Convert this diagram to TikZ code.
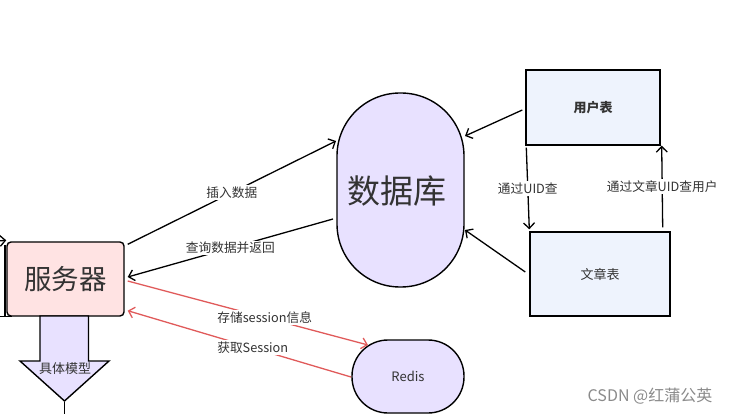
\documentclass[tikz,border=0pt]{standalone}
\usepackage{fontspec}
\setmainfont{Noto Sans CJK SC}
\usetikzlibrary{arrows.meta,calc}
\definecolor{srvfill}{HTML}{FFE3E3}
\definecolor{lav}{HTML}{E8E1FF}
\definecolor{tbl}{HTML}{EEF3FD}
\definecolor{redl}{HTML}{E05A5A}
\definecolor{txt}{HTML}{333333}
\definecolor{wm}{HTML}{8A8A8A}
\tikzset{
  conn/.style={line width=1.3pt, -{Straight Barb[length=5.5pt,width=11pt,line width=1.3pt]}},
  redconn/.style={conn, draw=redl},
  lbl/.style={fill=white, inner sep=1.5pt, font=\fontsize{12.7}{14}\selectfont, text=txt},
  box/.style={draw=black, line width=1.4pt, text=txt},
}
\begin{document}
\begin{tikzpicture}[x=1pt,y=-1pt]
\useasboundingbox (0,0) rectangle (731,414);
% nodes
\node[box, fill=srvfill, rounded corners=4pt, minimum width=117pt, minimum height=74pt, font=\fontsize{27.5}{30}\selectfont] (server) at (65.5,279) {服务器};
\node[box, fill=lav, rounded corners=63pt, minimum width=127pt, minimum height=194pt, font=\fontsize{33}{36}\selectfont, text depth=0pt] (db) at (400.5,190) {\hspace{-7pt}数据库};
\node[box, fill=tbl, minimum width=134pt, minimum height=75pt, font=\fontsize{13}{15}\selectfont\bfseries] (user) at (593,107.5) {用户表};
\node[box, fill=tbl, minimum width=140pt, minimum height=84pt, font=\fontsize{13}{15}\selectfont] (article) at (600,274) {文章表};
\node[box, fill=lav, rounded corners=36pt, minimum width=112pt, minimum height=73pt, font=\fontsize{13}{15}\selectfont] (redis) at (408,376.5) {Redis};
% big arrow
\draw[line width=1.4pt, fill=lav, line join=miter] (40,316) -- (88.5,316) -- (88.5,361) -- (109,361) -- (64.5,401) -- (20,361) -- (40,361) -- cycle;
\node[text=txt, font=\fontsize{13}{15}\selectfont, inner sep=0pt] (model) at (65,369) {具体模型};
\coordinate (tailtop) at (64.5,402);
\coordinate (tailbot) at (64.5,414);
\draw[line width=1.3pt] (tailtop) -- (tailbot);
% left partial connector
\coordinate (lin) at (-2,241);
\coordinate (lv1) at (5,245);
\coordinate (lv2) at (5,316.5);
\coordinate (lh) at (12,316.5);
\coordinate (lh0) at (0,316.5);
\draw[conn] (lin) -- ($(server.north west)+(0,-1)$);
\draw[line width=1.3pt] (lv1) -- (lv2);
\draw[line width=1.3pt] (lh0) -- (lh);
% connectors
\draw[conn] ($(server.north east)+(3,3)$) -- node[lbl, midway] {插入数据} ($(db.center)+(-64.5,-49)$);
\draw[conn] ($(db.center)+(-67.5,29)$) -- node[lbl, midway] {查询数据并返回} ($(server.east)+(3,-2)$);
\draw[redconn] ($(server.east)+(3,2)$) -- node[lbl, pos=0.57] {存储session信息} ($(redis.center)+(-40,-31.5)$);
\draw[redconn] ($(redis.center)+(-57,0.5)$) -- node[lbl, pos=0.44] {获取Session} ($(server.south east)+(3,-6)$);
\draw[conn] ($(user.west)+(-3,2.5)$) -- ($(db.center)+(64.5,-54)$);
\draw[conn] ($(article.west)+(-4,-2)$) -- ($(db.center)+(64.5,40)$);
\draw[conn] ($(user.south west)+(1,2)$) -- node[lbl, midway] {通过UID查} ($(article.north west)+(0,-2)$);
\draw[conn] ($(article.north east)+(-8,-4)$) -- node[lbl, midway] {通过文章UID查用户} ($(user.south east)+(1,0)$);
% watermark
\node[text=wm, font=\fontsize{16}{18}\selectfont, inner sep=0pt] (mark) at (650,396) {CSDN @红蒲公英};
\end{tikzpicture}
\end{document}
